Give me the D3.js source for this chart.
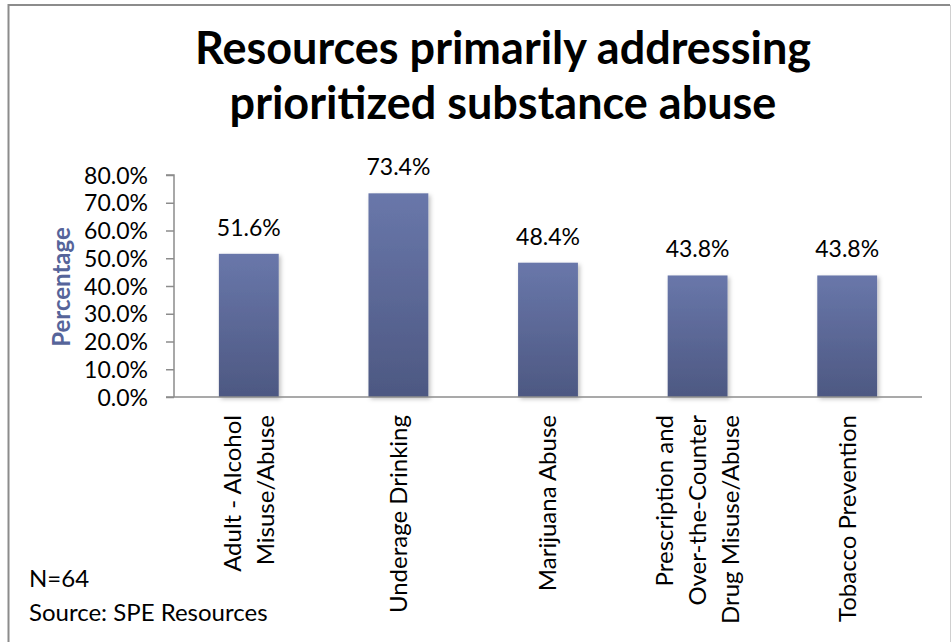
<!DOCTYPE html>
<html>
<head>
<meta charset="utf-8">
<script src="https://cdn.jsdelivr.net/npm/d3@7"></script>
<style>
  html, body { margin: 0; padding: 0; background: #fff; }
  svg { display: block; font-family: Lato, "Open Sans", sans-serif; }
</style>
</head>
<body>
<div id="chart"></div>
<script>
const titleLines = ["Resources primarily addressing", "prioritized substance abuse"];
const categories = [
  ["Adult - Alcohol", "Misuse/Abuse"],
  ["Underage Drinking"],
  ["Marijuana Abuse"],
  ["Prescription and", "Over-the-Counter", "Drug Misuse/Abuse"],
  ["Tobacco Prevention"]
];
const values = [51.6, 73.4, 48.4, 43.8, 43.8];
const yTicks = [0, 10, 20, 30, 40, 50, 60, 70, 80];
const notes = ["N=64", "Source: SPE Resources"];

const svgWidth = 951;
const svgHeight = 642;
const plotLeft = 174, plotRight = 922, plotTop = 175, plotBottom = 397;

const svg = d3.select("#chart")
  .append("svg")
  .attr("width", svgWidth)
  .attr("height", svgHeight);

// frame
svg.append("rect").attr("x", 0).attr("y", 0).attr("width", svgWidth).attr("height", svgHeight).attr("fill", "#fff");
svg.append("line").attr("x1", 8.5).attr("x2", 8.5).attr("y1", 4).attr("y2", svgHeight).attr("stroke", "#8c8c8c").attr("stroke-width", 2);
svg.append("line").attr("x1", 8).attr("x2", 950).attr("y1", 5).attr("y2", 5).attr("stroke", "#8c8c8c").attr("stroke-width", 2);
svg.append("line").attr("x1", 950.5).attr("x2", 950.5).attr("y1", 5).attr("y2", svgHeight).attr("stroke", "#d0d0d0").attr("stroke-width", 1);

const defs = svg.append("defs");
const grad = defs.append("linearGradient").attr("id", "barGrad")
  .attr("x1", 0).attr("y1", 0).attr("x2", 0).attr("y2", 1);
grad.append("stop").attr("offset", "0%").attr("stop-color", "#6977aa");
grad.append("stop").attr("offset", "100%").attr("stop-color", "#4d5882");
const shadow = defs.append("filter").attr("id", "shadow")
  .attr("x", "-20%").attr("y", "-10%").attr("width", "150%").attr("height", "130%");
shadow.append("feDropShadow").attr("dx", 2).attr("dy", 2).attr("stdDeviation", 2)
  .attr("flood-color", "#000").attr("flood-opacity", 0.25);

// title
svg.append("text")
  .attr("x", 503).attr("y", 64)
  .attr("text-anchor", "middle")
  .attr("font-size", 45).attr("font-weight", "bold").attr("fill", "#000")
  .selectAll("tspan").data(titleLines).enter().append("tspan")
  .attr("x", 503).attr("dy", (d, i) => i === 0 ? 0 : 55)
  .text(d => d);

const xScale = d3.scaleBand()
  .domain(d3.range(values.length))
  .range([plotLeft, plotRight])
  .paddingInner(0.6)
  .paddingOuter(0.3);

const yScale = d3.scaleLinear()
  .domain([0, 80])
  .range([plotBottom, plotTop]);

// bars
svg.append("g").selectAll("rect").data(values).enter().append("rect")
  .attr("x", (d, i) => xScale(i))
  .attr("y", d => yScale(d))
  .attr("width", xScale.bandwidth())
  .attr("height", d => plotBottom - yScale(d))
  .attr("fill", "url(#barGrad)")
  .attr("filter", "url(#shadow)");

// value labels
svg.append("g").selectAll("text").data(values).enter().append("text")
  .attr("x", (d, i) => xScale(i) + xScale.bandwidth() / 2)
  .attr("y", d => yScale(d) - 18)
  .attr("text-anchor", "middle")
  .attr("font-size", 23).attr("fill", "#000")
  .text(d => d.toFixed(1) + "%");

// y axis
const yAxis = d3.axisLeft(yScale)
  .tickValues(yTicks)
  .tickSize(8)
  .tickFormat(d => d.toFixed(1) + "%");
const gy = svg.append("g").attr("transform", `translate(${plotLeft},0)`).call(yAxis);
gy.select(".domain").attr("stroke", "#8c8c8c").attr("stroke-width", 1.5).attr("d", `M-8,${plotTop}H0V${plotBottom}`);
gy.selectAll(".tick line").attr("stroke", "#8c8c8c").attr("stroke-width", 1.5);
gy.selectAll(".tick text")
  .attr("x", -26)
  .attr("dy", "0.35em")
  .attr("font-family", "Lato, sans-serif")
  .attr("font-size", 23).attr("fill", "#000");

// x axis line
svg.append("line")
  .attr("x1", plotLeft - 8).attr("x2", plotRight)
  .attr("y1", plotBottom).attr("y2", plotBottom)
  .attr("stroke", "#8c8c8c").attr("stroke-width", 1.5);

// category labels (rotated)
const catG = svg.append("g").selectAll("g").data(categories).enter().append("g")
  .attr("transform", (d, i) => `translate(${xScale(i) + xScale.bandwidth() / 2},415) rotate(-90)`);
catG.each(function(lines) {
  const g = d3.select(this);
  lines.forEach((line, j) => {
    g.append("text")
      .attr("x", 0)
      .attr("y", (j - (lines.length - 1) / 2) * 33)
      .attr("dy", "0.35em")
      .attr("text-anchor", "end")
      .attr("font-size", 24).attr("fill", "#000")
      .text(line);
  });
});

// y axis title
svg.append("text")
  .attr("transform", "translate(62,287) rotate(-90)")
  .attr("text-anchor", "middle")
  .attr("dy", "0.35em")
  .attr("font-size", 24).attr("font-weight", "bold").attr("fill", "#56649a")
  .text("Percentage");

// notes
svg.append("g").selectAll("text").data(notes).enter().append("text")
  .attr("x", 29)
  .attr("y", (d, i) => 587 + i * 34)
  .attr("font-size", 24).attr("fill", "#000")
  .text(d => d);
</script>
</body>
</html>
